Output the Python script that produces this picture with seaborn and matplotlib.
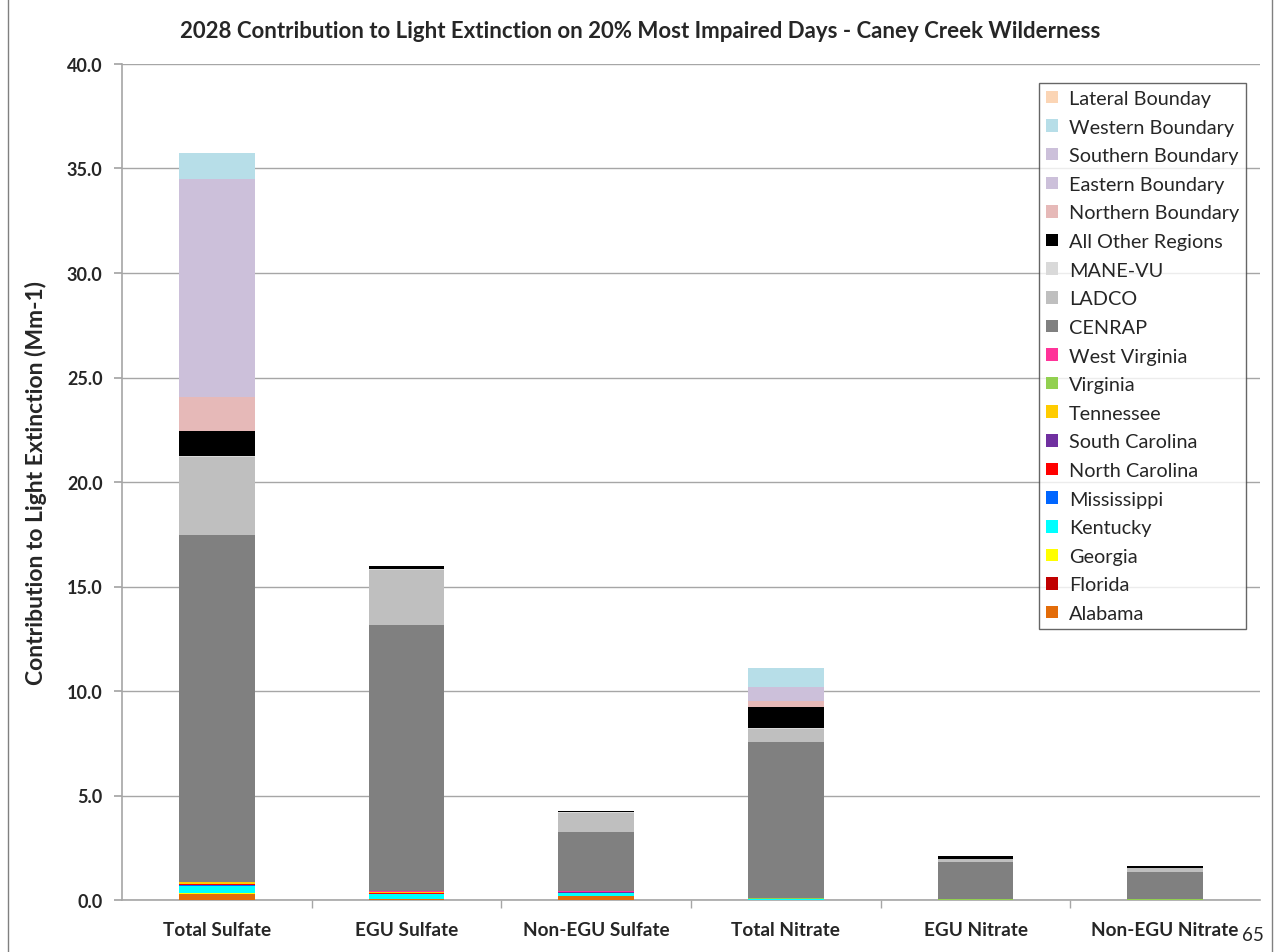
import numpy as np
import pandas as pd
import matplotlib
matplotlib.use("Agg")
import matplotlib.pyplot as plt
from matplotlib.patches import Patch, Rectangle
import seaborn as sns

categories = ["Total Sulfate", "EGU Sulfate", "Non-EGU Sulfate", "Total Nitrate", "EGU Nitrate", "Non-EGU Nitrate"]

# stacked from bottom to top
alabama        = [0.28, 0.05, 0.18, 0.01, 0.005, 0.005]
florida        = [0.01, 0.005, 0.005, 0.0, 0.0, 0.0]
georgia        = [0.03, 0.01, 0.01, 0.01, 0.0, 0.0]
kentucky       = [0.35, 0.22, 0.12, 0.02, 0.005, 0.005]
mississippi    = [0.05, 0.02, 0.02, 0.005, 0.0, 0.0]
north_carolina = [0.03, 0.02, 0.01, 0.005, 0.0, 0.0]
south_carolina = [0.03, 0.03, 0.02, 0.005, 0.0, 0.0]
tennessee      = [0.06, 0.02, 0.02, 0.01, 0.005, 0.005]
virginia       = [0.02, 0.01, 0.01, 0.02, 0.01, 0.01]
west_virginia  = [0.02, 0.04, 0.02, 0.005, 0.0, 0.0]
cenrap         = [16.6, 12.73, 2.84, 7.46, 1.77, 1.32]
ladco          = [3.73, 2.63, 0.92, 0.65, 0.15, 0.18]
mane_vu        = [0.05, 0.04, 0.02, 0.03, 0.02, 0.03]
all_other      = [1.20, 0.15, 0.06, 0.99, 0.12, 0.08]
northern       = [1.62, 0.0, 0.0, 0.29, 0.0, 0.0]
eastern        = [1.00, 0.0, 0.0, 0.20, 0.0, 0.0]
southern       = [9.44, 0.0, 0.0, 0.50, 0.0, 0.0]
western        = [1.24, 0.0, 0.0, 0.88, 0.0, 0.0]
lateral        = [0.0, 0.0, 0.0, 0.0, 0.0, 0.0]

series_names = ["Alabama", "Florida", "Georgia", "Kentucky", "Mississippi", "North Carolina",
                "South Carolina", "Tennessee", "Virginia", "West Virginia", "CENRAP", "LADCO",
                "MANE-VU", "All Other Regions", "Northern Boundary", "Eastern Boundary",
                "Southern Boundary", "Western Boundary", "Lateral Bounday"]
series_values = [alabama, florida, georgia, kentucky, mississippi, north_carolina, south_carolina,
                 tennessee, virginia, west_virginia, cenrap, ladco, mane_vu, all_other, northern,
                 eastern, southern, western, lateral]
series_colors = ["#E36C09", "#C00000", "#FFFF00", "#00FFFF", "#0066FF", "#FF0000", "#7030A0",
                 "#FFCC00", "#92D050", "#FF3399", "#808080", "#BFBFBF", "#D9D9D9", "#000000",
                 "#E6B9B8", "#CCC0DA", "#CCC0DA", "#B7DEE8", "#FBD5B5"]

sns.set_theme(style="white")
plt.rcParams["font.family"] = ["Lato", "DejaVu Sans"]

fig = plt.figure(figsize=(12.77, 9.53), dpi=100)
ax = fig.add_axes([122/1277, 52/953, (1260-122)/1277, (901-65)/953])

vals = np.array(series_values)
cum = np.cumsum(vals, axis=0)
# draw from top layer down so lower layers overlay
for i in range(len(series_names) - 1, -1, -1):
    df = pd.DataFrame({"cat": categories, "val": cum[i]})
    sns.barplot(data=df, x="cat", y="val", color=series_colors[i], width=0.4,
                saturation=1, edgecolor="none", linewidth=0, ax=ax, zorder=3)

ax.set_ylim(0, 40)
ax.set_xlim(-0.5, 5.5)
ax.set_yticks(np.arange(0, 40.01, 5))
ax.set_yticklabels([f"{v:.1f}" for v in np.arange(0, 40.01, 5)], fontsize=13, fontweight="bold")
ax.set_xticks(range(len(categories)))
ax.set_xticklabels(categories, fontsize=13.7, fontweight="bold")
ax.tick_params(axis="x", length=0, pad=15)
ax.set_xticks(np.arange(0.5, 5.0, 1.0), minor=True)
ax.tick_params(axis="x", which="minor", length=6, color="#A6A6A6", direction="out", bottom=True)
ax.tick_params(axis="y", length=6, color="#A6A6A6", direction="out", left=True, pad=8)
ax.yaxis.grid(True, color="#A6A6A6", linewidth=1, zorder=0)
ax.set_axisbelow(True)
for s in ["top", "right"]:
    ax.spines[s].set_visible(False)
for s in ["left", "bottom"]:
    ax.spines[s].set_color("#A6A6A6")
    ax.spines[s].set_linewidth(1.2)
ax.set_xlabel("")
ax.set_ylabel("Contribution to Light Extinction (Mm-1)", fontsize=16.5, fontweight="bold", labelpad=14)

fig.text(640/1277, 1 - 32/953, "2028 Contribution to Light Extinction on 20% Most Impaired Days - Caney Creek Wilderness",
         ha="center", va="center", fontsize=16.0, fontweight="bold")
fig.text(1253/1277, 1 - 936/953, "65", ha="center", va="center", fontsize=13.5)

handles = [Patch(facecolor=c, edgecolor="none", label=n) for n, c in zip(series_names, series_colors)]
handles = handles[::-1]
leg = ax.legend(handles=handles, loc="upper left", bbox_to_anchor=((1039-122)/1138, (901-84)/836),
                fontsize=14.3, frameon=True, fancybox=False, handlelength=0.6, handleheight=0.6,
                handletextpad=0.55, labelspacing=0.585, borderpad=0.35, borderaxespad=0)
leg.get_frame().set_edgecolor("#404040")
leg.get_frame().set_linewidth(1)

fig.patches.append(Rectangle((8/1277, -0.01), (1272-8)/1277, 1.02, transform=fig.transFigure,
                             fill=False, edgecolor="#808080", linewidth=1))

fig.savefig("out.png", dpi=100)
